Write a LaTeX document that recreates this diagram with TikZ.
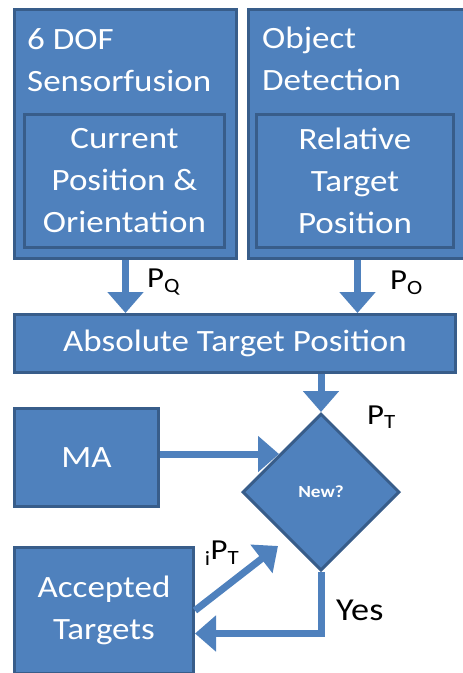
\documentclass[tikz,border=0pt]{standalone}
\usepackage{fontspec}
\setmainfont{Carlito}[FakeStretch=1.13]
\usetikzlibrary{positioning, shapes.geometric, arrows.meta, calc}
\definecolor{boxblue}{HTML}{4F81BD}
\definecolor{boxline}{HTML}{385D8A}

\begin{document}
\begin{tikzpicture}[
    x=1pt, y=-1pt,
    block/.style={rectangle, draw=boxline, line width=3pt, fill=boxblue,
        text=white, inner sep=0pt, anchor=north west, align=center,
        font=\fontsize{31}{42}\selectfont},
    title/.style={text=white, inner sep=0pt, anchor=north west, align=left,
        font=\fontsize{31}{42}\selectfont},
    decision/.style={diamond, draw=boxline, line width=3pt, fill=boxblue,
        text=white, inner sep=0pt, minimum width=157pt, minimum height=157pt,
        font=\bfseries\fontsize{17}{20}\selectfont},
    flow/.style={draw=boxblue, line width=7pt,
        -{Triangle[width=35pt, length=21pt]}},
    sig/.style={text=black, inner sep=0pt, font=\fontsize{29}{32}\selectfont}
]
\useasboundingbox (0,0) rectangle (463,673);

% Sensor fusion
\node[block, minimum width=222pt, minimum height=249pt] (sens) at (13,8) {};
\node[title] (senstitle) at (27,28) {6 DOF\\Sensorfusion};
\node[block, minimum width=200pt, minimum height=133pt] (cur) at (23,113)
    {Current\\Position \&\\Orientation};

% Object detection
\node[block, minimum width=224pt, minimum height=249pt] (obj) at (247,8) {};
\node[title] (objtitle) at (262,27) {Object\\Detection};
\node[block, minimum width=197pt, minimum height=133pt] (rel) at (255,113)
    {Relative\\Target\\Position};

% Absolute position and decision
\node[block, minimum width=441pt, minimum height=58pt] (abs) at (13,313)
    {Absolute Target Position};
\node[decision] (new) at (321,492) {New?};
\node[block, minimum width=144pt, minimum height=98pt] (ma) at (13,407) {MA};
\node[block, minimum width=179pt, minimum height=126pt] (acc) at (13,546)
    {Accepted\\Targets};

% Arrows
\draw[flow] (sens.south) -- (sens.south |- abs.north);
\draw[flow] ([xshift=-3pt]obj.south) -- ([xshift=-3pt]obj.south |- abs.north);
\draw[flow] (new.north |- abs.south) -- (new.north);
\coordinate (mahit) at ($(new.west)!0.475!(new.north)$);
\draw[flow] (ma.east |- mahit) -- (mahit);
\draw[flow] (new.south) |- ([yshift=-23pt]acc.east);
\coordinate (ptip) at ($(new.center)+(-43,54)$);
\draw[flow] (acc.east) -- (ptip);

% Labels
\node[sig, anchor=west] (pq) at (147,282) {P\textsubscript{Q}};
\node[sig, anchor=west] (po) at (390,283) {P\textsubscript{O}};
\node[sig, anchor=west] (pt) at (367,417) {P\textsubscript{T}};
\node[sig] (ipt) at (222,553) {\textsubscript{i}P\textsubscript{T}};
\node[sig, anchor=west, font=\fontsize{32}{34}\selectfont] (yes) at (336,610) {Yes};

\end{tikzpicture}
\end{document}
